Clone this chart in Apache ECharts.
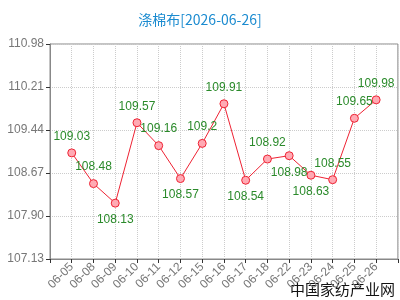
<!DOCTYPE html>
<html lang="zh">
<head>
    <meta charset="UTF-8">
    <title>涤棉布</title>
    <script src="https://cdn.jsdelivr.net/npm/echarts@6/dist/echarts.min.js"></script>
    <style>
        html, body { margin: 0; padding: 0; background: #fff; }
        #chart { width: 400px; height: 300px; }
    </style>
</head>
<body>
<div id="chart"></div>
<script>
    // 日期（首尾留空位）
    const dates = ['', '06-05', '06-08', '06-09', '06-10', '06-11', '06-12', '06-15', '06-16',
        '06-17', '06-18', '06-22', '06-23', '06-24', '06-25', '06-26', ''];
    // 价格
    const prices = [null, 109.03, 108.48, 108.13, 109.57, 109.16, 108.57, 109.2, 109.91,
        108.54, 108.92, 108.98, 108.63, 108.55, 109.65, 109.98, null];
    // 数值标签位置
    const labelPos = [null, 'top', 'top', 'bottom', 'top', 'top', 'bottom', 'top', 'top',
        'bottom', 'top', 'bottom', 'bottom', 'top', 'top', 'top', null];
    // y 轴刻度
    const yTicks = [107.13, 107.90, 108.67, 109.44, 110.21, 110.98];

    const chart = echarts.init(document.getElementById('chart'));

    const seriesData = prices.map(function (v, i) {
        if (v === null) return null;
        return { value: v, label: { position: labelPos[i] } };
    });

    chart.setOption({
        animation: false,
        title: {
            text: '涤棉布[2026-06-26]',
            left: 'center',
            top: 8,
            textStyle: { color: '#1b8bd0', fontSize: 14, fontWeight: 'normal', fontFamily: 'Noto Sans CJK SC' }
        },
        graphic: [{
            type: 'text',
            right: 5,
            bottom: 3,
            style: { text: '中国家纺产业网', fill: '#111', font: '15px "Noto Sans CJK SC"' }
        }],
        grid: {
            left: 50, right: 1, top: 44, bottom: 41,
            show: true, borderColor: '#888', borderWidth: 1
        },
        xAxis: {
            type: 'category',
            data: dates,
            boundaryGap: false,
            axisLine: { lineStyle: { color: '#888' } },
            axisTick: { show: true, interval: 0, length: 4, lineStyle: { color: '#333' } },
            axisLabel: { interval: 0, rotate: 45, color: '#777', fontSize: 12, margin: 6 },
            splitLine: { show: true, interval: 0, lineStyle: { color: '#ccc', type: 'dotted' } }
        },
        yAxis: {
            type: 'value',
            min: 107.13,
            max: 110.98,
            axisLine: { show: true, lineStyle: { color: '#888' } },
            axisTick: { show: true, length: 4, customValues: yTicks, lineStyle: { color: '#333' } },
            axisLabel: {
                color: '#777', fontSize: 12, margin: 6, customValues: yTicks,
                formatter: function (v) { return v.toFixed(2); }
            },
            splitLine: { show: true, lineStyle: { color: '#ccc', type: 'dotted' } }
        },
        series: [{
            type: 'line',
            data: seriesData,
            symbol: 'circle',
            symbolSize: 8,
            lineStyle: { color: '#ee2233', width: 1 },
            itemStyle: { color: '#ffaab4', borderColor: '#ee2233', borderWidth: 1 },
            label: { show: true, color: '#2a8a2a', fontSize: 12, distance: 6 }
        }]
    });
</script>
</body>
</html>
